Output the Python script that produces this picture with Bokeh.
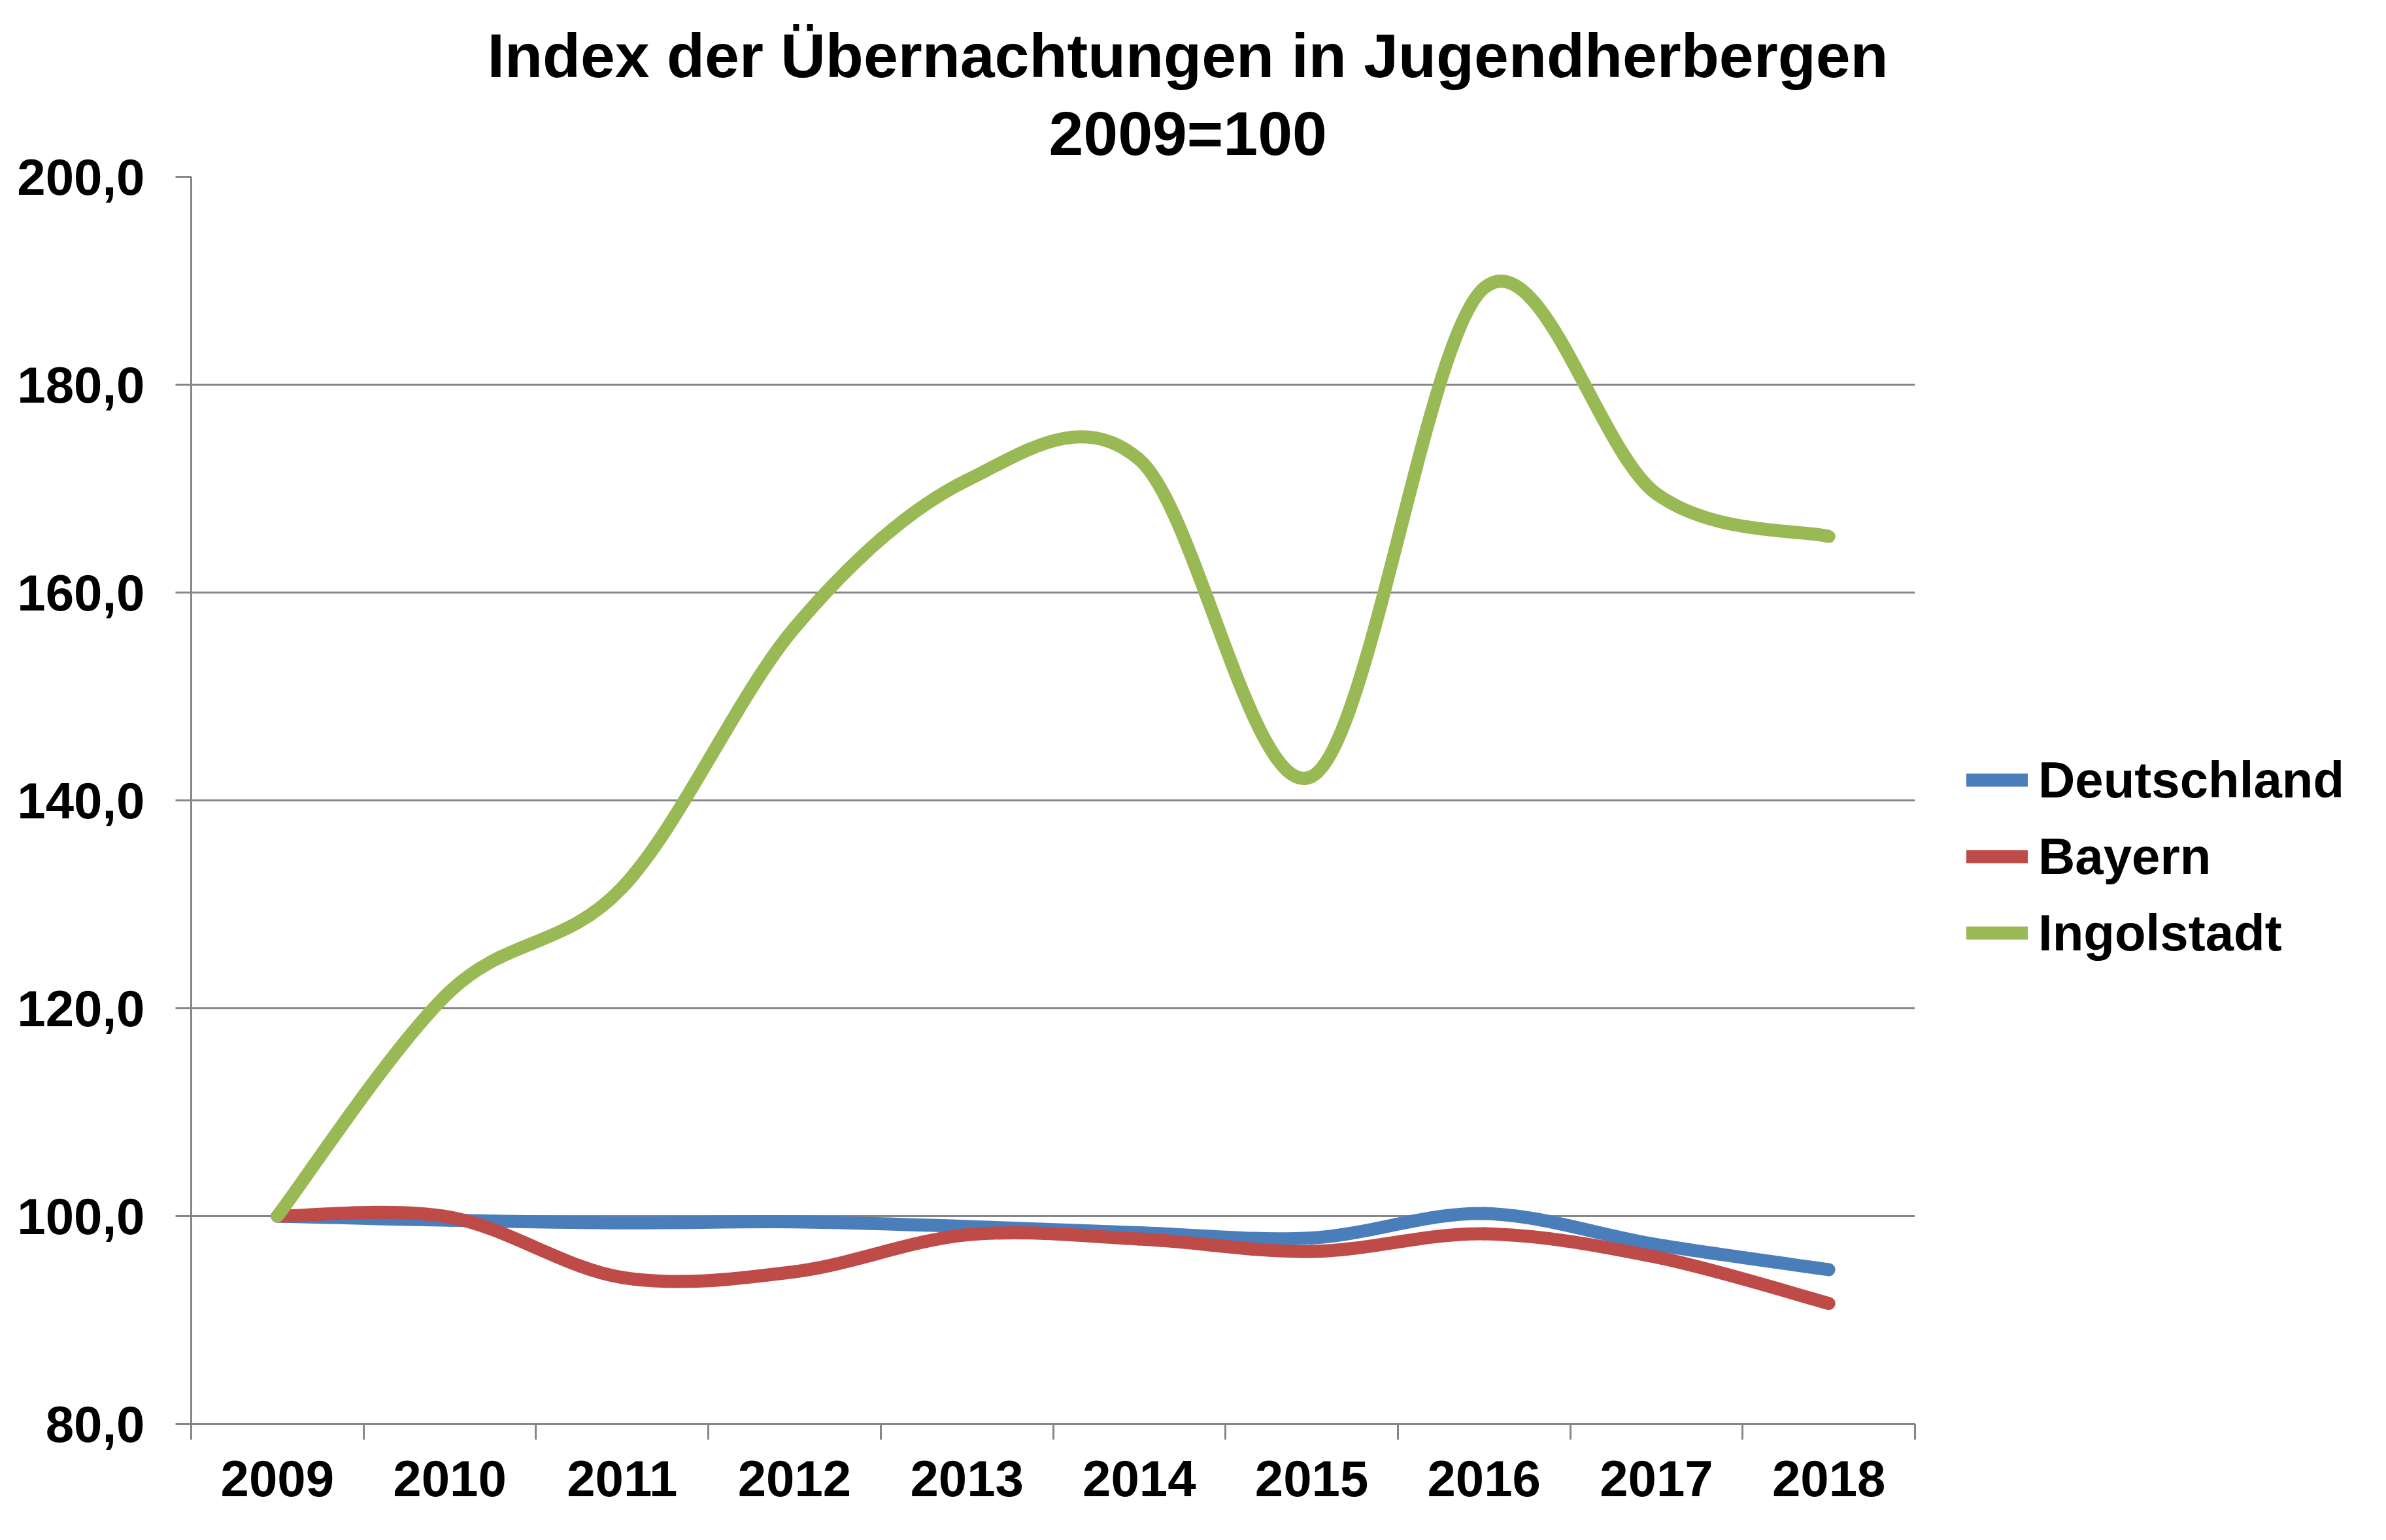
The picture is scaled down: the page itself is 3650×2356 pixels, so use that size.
from bokeh.plotting import figure
from bokeh.models import (ColumnDataSource, FixedTicker, Legend, LegendItem,
                          Title, Range1d)
from bokeh.embed import file_html
from bokeh.resources import INLINE

# ---- data -------------------------------------------------------------
years = ["2009", "2010", "2011", "2012", "2013", "2014", "2015", "2016", "2017", "2018"]
deutschland = [100.0, 99.6, 99.35, 99.45, 99.0, 98.4, 97.9, 100.25, 97.25, 94.85]
bayern = [100.0, 99.9, 94.1, 94.65, 98.2, 97.8, 96.6, 98.3, 96.05, 91.6]
ingolstadt = [100.0, 121.6, 131.6, 156.6, 170.8, 172.8, 142.3, 189.3, 169.5, 165.4]
series_names = ["Deutschland", "Bayern", "Ingolstadt"]
series_colors = ["#4A7EBB", "#BE4B48", "#98B954"]
y_ticks = [80, 100, 120, 140, 160, 180, 200]
y_tick_labels = ["80,0", "100,0", "120,0", "140,0", "160,0", "180,0", "200,0"]
title_lines = ["Index der Übernachtungen in Jugendherbergen", "2009=100"]

FONT = "Liberation Sans"
GRAY = "#868686"
LABEL_SIZE = "78px"
TITLE_SIZE = "95px"


def smooth_segments(values):
    """Excel-style smoothed line: cubic Bezier segments through the data points."""
    n = len(values)
    xs = list(range(n))
    d = dict(x0=[], y0=[], x1=[], y1=[], cx0=[], cy0=[], cx1=[], cy1=[])
    for i in range(n - 1):
        prev_i = max(i - 1, 0)
        next_i = min(i + 2, n - 1)
        d["x0"].append(xs[i]); d["y0"].append(values[i])
        d["x1"].append(xs[i + 1]); d["y1"].append(values[i + 1])
        d["cx0"].append(xs[i] + (xs[i + 1] - xs[prev_i]) / 6.0)
        d["cy0"].append(values[i] + (values[i + 1] - values[prev_i]) / 6.0)
        d["cx1"].append(xs[i + 1] - (xs[next_i] - xs[i]) / 6.0)
        d["cy1"].append(values[i + 1] - (values[next_i] - values[i]) / 6.0)
    return ColumnDataSource(d)


p = figure(frame_width=2637, frame_height=1908,
           x_range=Range1d(-0.5, len(years) - 0.5), y_range=Range1d(80, 200),
           output_backend="svg", toolbar_location=None,
           min_border_left=292, min_border_right=705,
           min_border_top=270, min_border_bottom=162)
p.outline_line_color = None
p.background_fill_color = "white"
p.border_fill_color = "white"

# title: main line (outermost) + sub line (next to the frame), both centred
# on the whole chart (left-aligned with computed offsets)
p.title.text = title_lines[0]
p.title.align = "left"
p.title.offset = 453
try:
    p.title.standoff = -7
except Exception:
    p.title.standoff = 0
p.title.text_font = FONT
p.title.text_font_style = "bold"
p.title.text_font_size = TITLE_SIZE
p.title.text_color = "black"
p.add_layout(Title(text=title_lines[1], align="left", offset=1312, standoff=28,
                   text_font=FONT, text_font_style="bold",
                   text_font_size=TITLE_SIZE, text_color="black"), "above")

# grid
p.xgrid.grid_line_color = None
p.ygrid.grid_line_color = GRAY
p.ygrid.grid_line_width = 3

# y axis
ya = p.yaxis[0]
ya.ticker = FixedTicker(ticks=y_ticks, minor_ticks=[])
ya.major_label_overrides = {t: l for t, l in zip(y_ticks, y_tick_labels)}
ya.axis_line_color = GRAY
ya.axis_line_width = 3
ya.major_tick_line_color = GRAY
ya.major_tick_line_width = 3
ya.major_tick_out = 24
ya.major_tick_in = 0
ya.minor_tick_line_color = None
ya.major_label_standoff = 47
ya.major_label_text_font = FONT
ya.major_label_text_font_style = "bold"
ya.major_label_text_font_size = LABEL_SIZE
ya.major_label_text_color = "black"

# x axis (categories at integer positions, ticks between categories)
xa = p.xaxis[0]
xa.ticker = FixedTicker(ticks=list(range(len(years))),
                        minor_ticks=[i - 0.5 for i in range(len(years) + 1)])
xa.major_label_overrides = {i: y for i, y in enumerate(years)}
xa.axis_line_color = GRAY
xa.axis_line_width = 3
xa.major_tick_line_color = None
xa.major_tick_out = 24
xa.major_tick_in = 0
xa.minor_tick_line_color = GRAY
xa.minor_tick_line_width = 3
xa.minor_tick_out = 24
xa.minor_tick_in = 0
xa.major_label_standoff = 32
xa.major_label_text_font = FONT
xa.major_label_text_font_style = "bold"
xa.major_label_text_font_size = LABEL_SIZE
xa.major_label_text_color = "black"

# series
items = []
for name, vals, col in zip(series_names, [deutschland, bayern, ingolstadt], series_colors):
    src = smooth_segments(vals)
    r = p.bezier(x0="x0", y0="y0", x1="x1", y1="y1", cx0="cx0", cy0="cy0",
                 cx1="cx1", cy1="cy1", source=src, line_color=col,
                 line_width=20, line_cap="round", line_join="round")
    items.append(LegendItem(label=name, renderers=[r]))

legend = Legend(items=items, location=(79, 705), orientation="vertical",
                glyph_width=94, glyph_height=92, label_height=92,
                label_standoff=16, spacing=25, padding=0, margin=0,
                border_line_color=None, background_fill_alpha=0,
                label_text_font=FONT, label_text_font_style="bold",
                label_text_font_size=LABEL_SIZE, label_text_color="black")
p.add_layout(legend, "right")

open("out.html", "w").write(file_html(p, INLINE))
